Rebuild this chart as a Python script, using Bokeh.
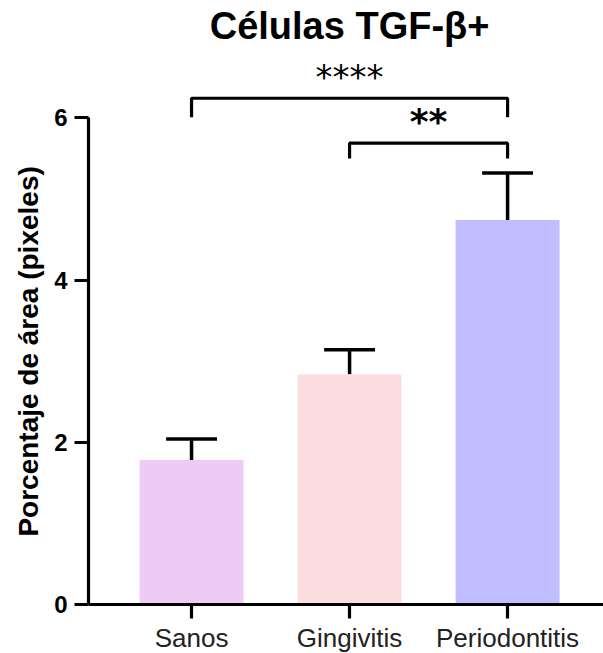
import numpy as np
from bokeh.plotting import figure
from bokeh.models import Range1d, FixedTicker, ColumnDataSource
from bokeh.core.properties import value
from bokeh.embed import file_html
from bokeh.resources import INLINE

# ---- data ----
categories = ["Sanos", "Gingivitis", "Periodontitis"]
means = [1.78, 2.84, 4.74]
sems = [0.26, 0.30, 0.58]
colors = ["#EECBF6", "#FDDEE0", "#C0BEFF"]
y_ticks = [0, 2, 4, 6]
comparisons = [("Sanos", "Periodontitis", "****"), ("Gingivitis", "Periodontitis", "**")]
title_text = "Células TGF-β+"
y_label = "Porcentaje de área (pixeles)"

FONT = "Liberation Sans"

idx = np.arange(len(categories), dtype=float)
means_a = np.array(means)
sems_a = np.array(sems)
tops = means_a + sems_a

W, H = 603, 653
X_START, X_END = -1.209, 2.607
Y_START, Y_END = -0.604, 7.446
Y_AXIS_AT = -0.652

p = figure(width=W, height=H, output_backend="svg", toolbar_location=None,
           x_range=Range1d(X_START, X_END), y_range=Range1d(Y_START, Y_END),
           min_border_left=0, min_border_right=0, min_border_top=0, min_border_bottom=0)
p.outline_line_color = None
p.grid.visible = False
p.background_fill_color = "white"

src = ColumnDataSource(dict(x=idx, top=means_a, color=colors, name=categories))
p.vbar(x="x", top="top", width=0.658, bottom=0, fill_color="color", line_color=None, source=src)

# error bars (upper only)
p.segment(x0=idx, y0=means_a, x1=idx, y1=tops, line_color="black", line_width=3.5)
p.segment(x0=idx - 0.161, y0=tops, x1=idx + 0.161, y1=tops, line_color="black", line_width=3.5)

# significance brackets
bracket_levels = [(6.241, 6.007, 6.50, "normal", "34px"), (5.687, 5.498, 5.95, "bold", "36px")]
for (a, b, stars), (hy, ly, ty, style, fs) in zip(comparisons, bracket_levels):
    xa = categories.index(a)
    xb = categories.index(b)
    p.line(x=[xa, xa, xb, xb], y=[ly, hy, hy, ly], line_color="black", line_width=3.2)
    p.text(x=[(xa + xb) / 2], y=[ty], text=[stars], text_align="center",
           text_baseline="alphabetic", text_font=value("DejaVu Sans"),
           text_font_size=fs, text_font_style=style, text_color="black")

# title
p.text(x=[1.0], y=[7.13], text=[title_text], text_align="center",
       text_baseline="alphabetic", text_font=value(FONT), text_font_size="38px",
       text_font_style="bold", text_color="black")

# y axis label
p.text(x=[-1.03], y=[3.12], text=[y_label], angle=np.pi / 2, text_align="center",
       text_baseline="middle", text_font=value(FONT), text_font_size="28px",
       text_font_style="bold", text_color="black")

# axes (fixed at the data origin, inside the frame)
ya = p.yaxis[0]
ya.fixed_location = Y_AXIS_AT
ya.bounds = (0, 6)
ya.ticker = FixedTicker(ticks=y_ticks)
ya.minor_tick_line_color = None
ya.major_tick_in = 0
ya.major_tick_out = 14
ya.axis_line_width = 3.2
ya.major_tick_line_width = 3.2
ya.axis_line_color = "black"
ya.major_tick_line_color = "black"
ya.major_label_text_font = FONT
ya.major_label_text_font_size = "24px"
ya.major_label_text_font_style = "bold"
ya.major_label_text_color = "black"
ya.major_label_standoff = 7
ya.axis_label = None

xa_ = p.xaxis[0]
xa_.fixed_location = 0
xa_.bounds = (Y_AXIS_AT, X_END)
xa_.ticker = FixedTicker(ticks=list(idx))
xa_.major_label_overrides = {float(i): c for i, c in zip(idx, categories)}
xa_.minor_tick_line_color = None
xa_.major_tick_in = 0
xa_.major_tick_out = 14
xa_.axis_line_width = 3.2
xa_.major_tick_line_width = 3.2
xa_.axis_line_color = "black"
xa_.major_tick_line_color = "black"
xa_.major_label_text_font = FONT
xa_.major_label_text_font_size = "26px"
xa_.major_label_text_color = "#222222"
xa_.major_label_standoff = 4
xa_.axis_label = None

open("out.html", "w").write(file_html(p, INLINE))
